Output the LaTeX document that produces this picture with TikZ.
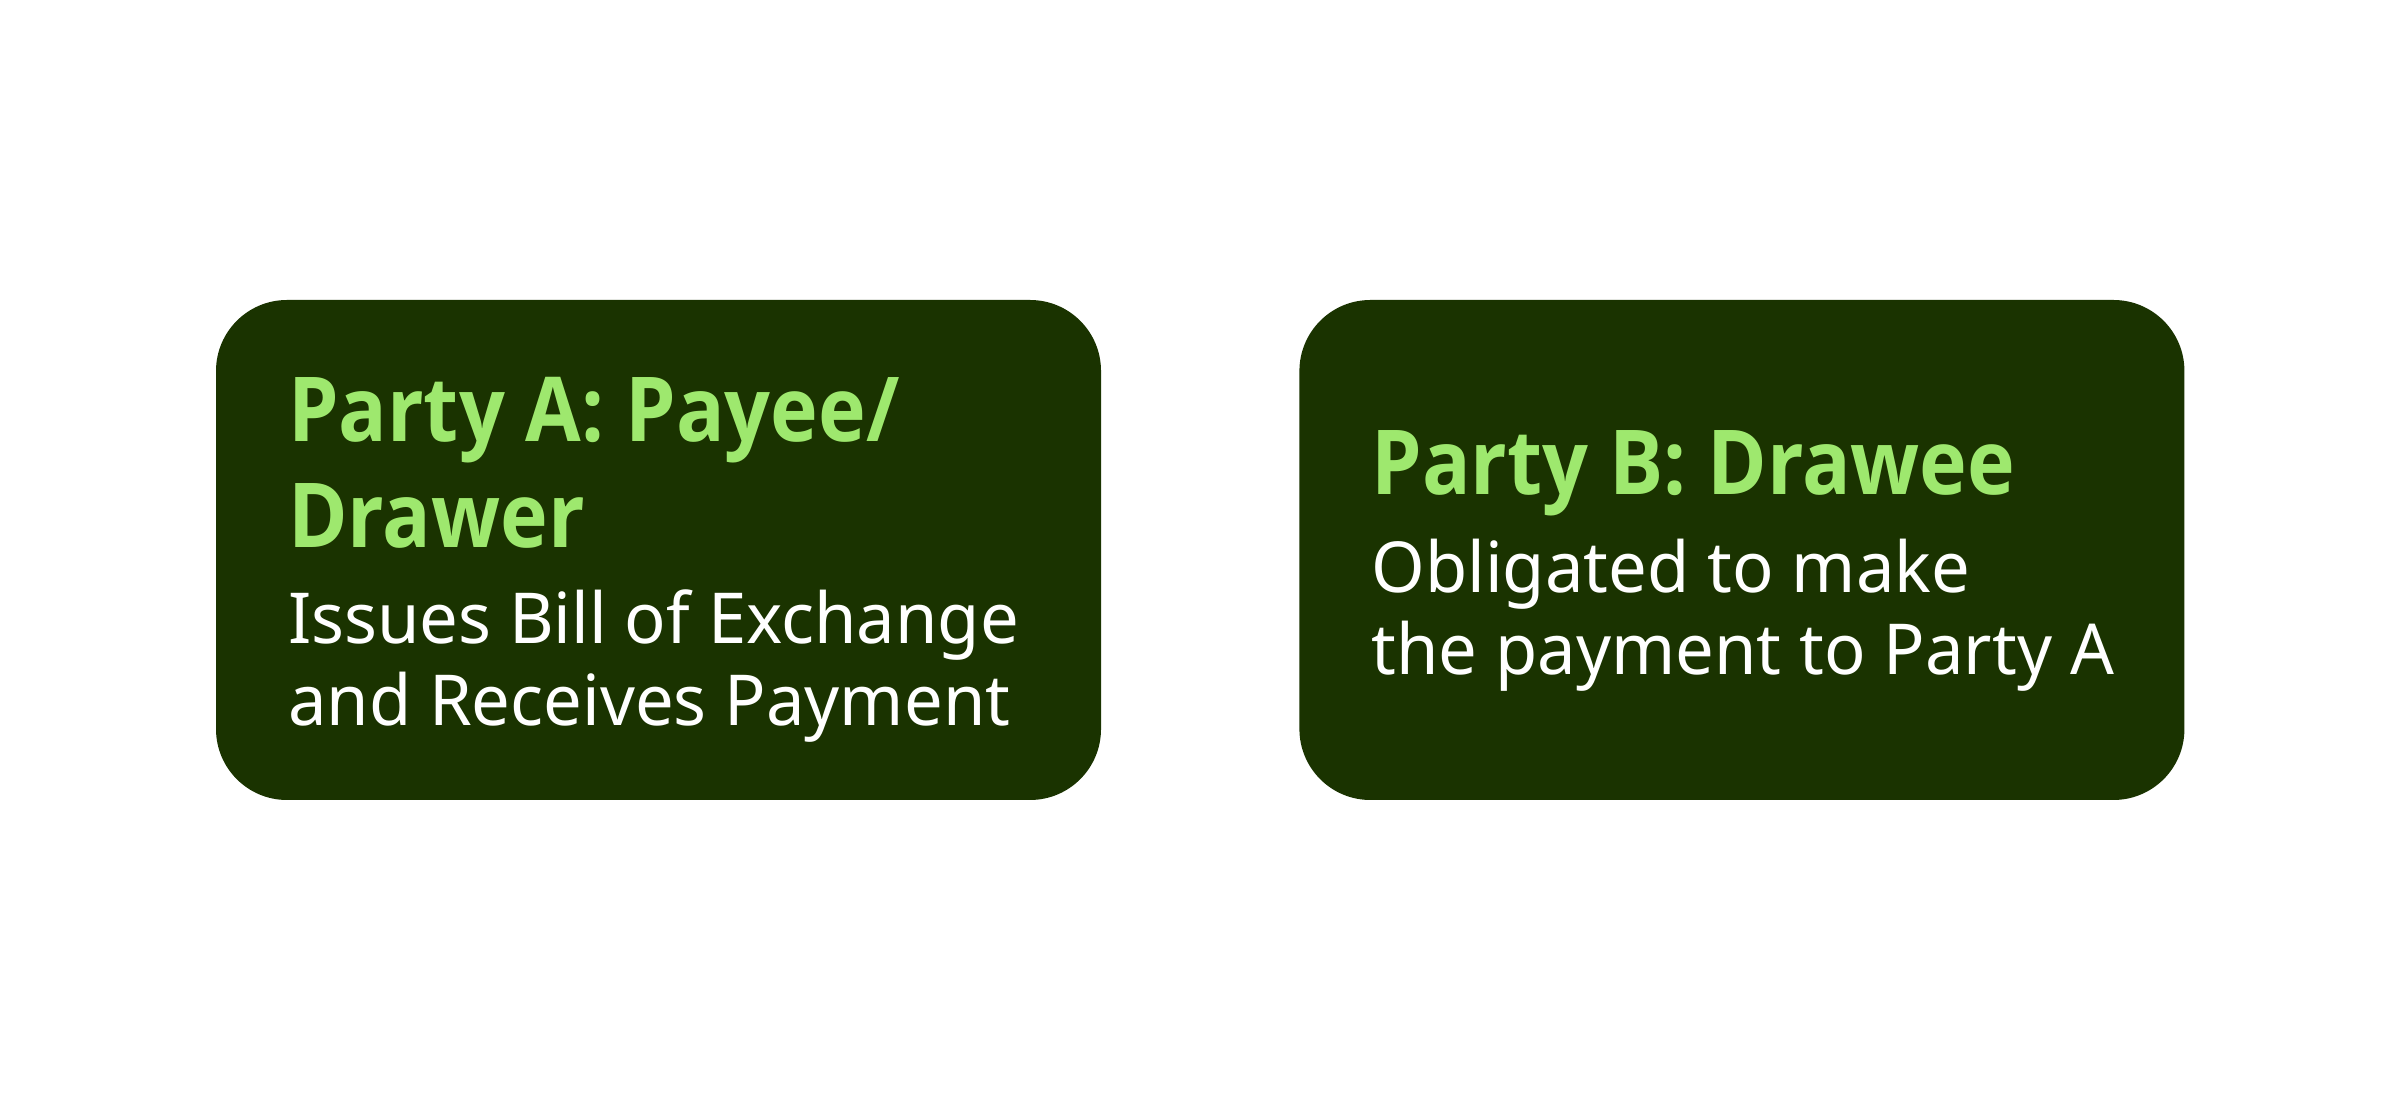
\documentclass[tikz,border=0pt]{standalone}
\usepackage{fontspec}
\setmainfont{Noto Sans}[FakeStretch=0.978]
\newfontfamily\titlefont{Open Sans}[FakeStretch=0.9]
\usepackage{tikz}
\usetikzlibrary{positioning}

\definecolor{cardgreen}{RGB}{26,51,0}
\definecolor{titlegreen}{RGB}{158,232,110}

\tikzset{
  card/.style={fill=cardgreen, rounded corners=0.71cm, minimum width=8.85cm,
    minimum height=5cm, inner sep=0pt},
  cardtitle/.style={anchor=base west, inner sep=0pt, align=left, text=titlegreen,
    font=\titlefont\bfseries\fontsize{25.5}{30}\selectfont},
  cardtext/.style={anchor=base west, inner sep=0pt, align=left, text=white,
    font=\fontsize{20}{23.3}\selectfont}
}

\begin{document}
\begin{tikzpicture}
  \useasboundingbox[fill=white] (0,0) rectangle (24,11);
  % the two parties
  \node[card] (partyA) at (6.585,5.5) {};
  \node[card, right=1.97cm of partyA] (partyB) {};

  \node[cardtitle] (titleA) at ([shift={(0.72,-2.48)}]partyA.north west)
    {Party A: Payee/\\Drawer};
  \node[cardtext] (textA) at ([shift={(0.72,-4.264)}]partyA.north west)
    {Issues Bill of Exchange\\and Receives Payment};

  \node[cardtitle] (titleB) at ([shift={(0.72,-1.957)}]partyB.north west)
    {Party B: Drawee};
  \node[cardtext] (textB) at ([shift={(0.72,-3.75)}]partyB.north west)
    {Obligated to make\\the payment to Party A};
\end{tikzpicture}
\end{document}
